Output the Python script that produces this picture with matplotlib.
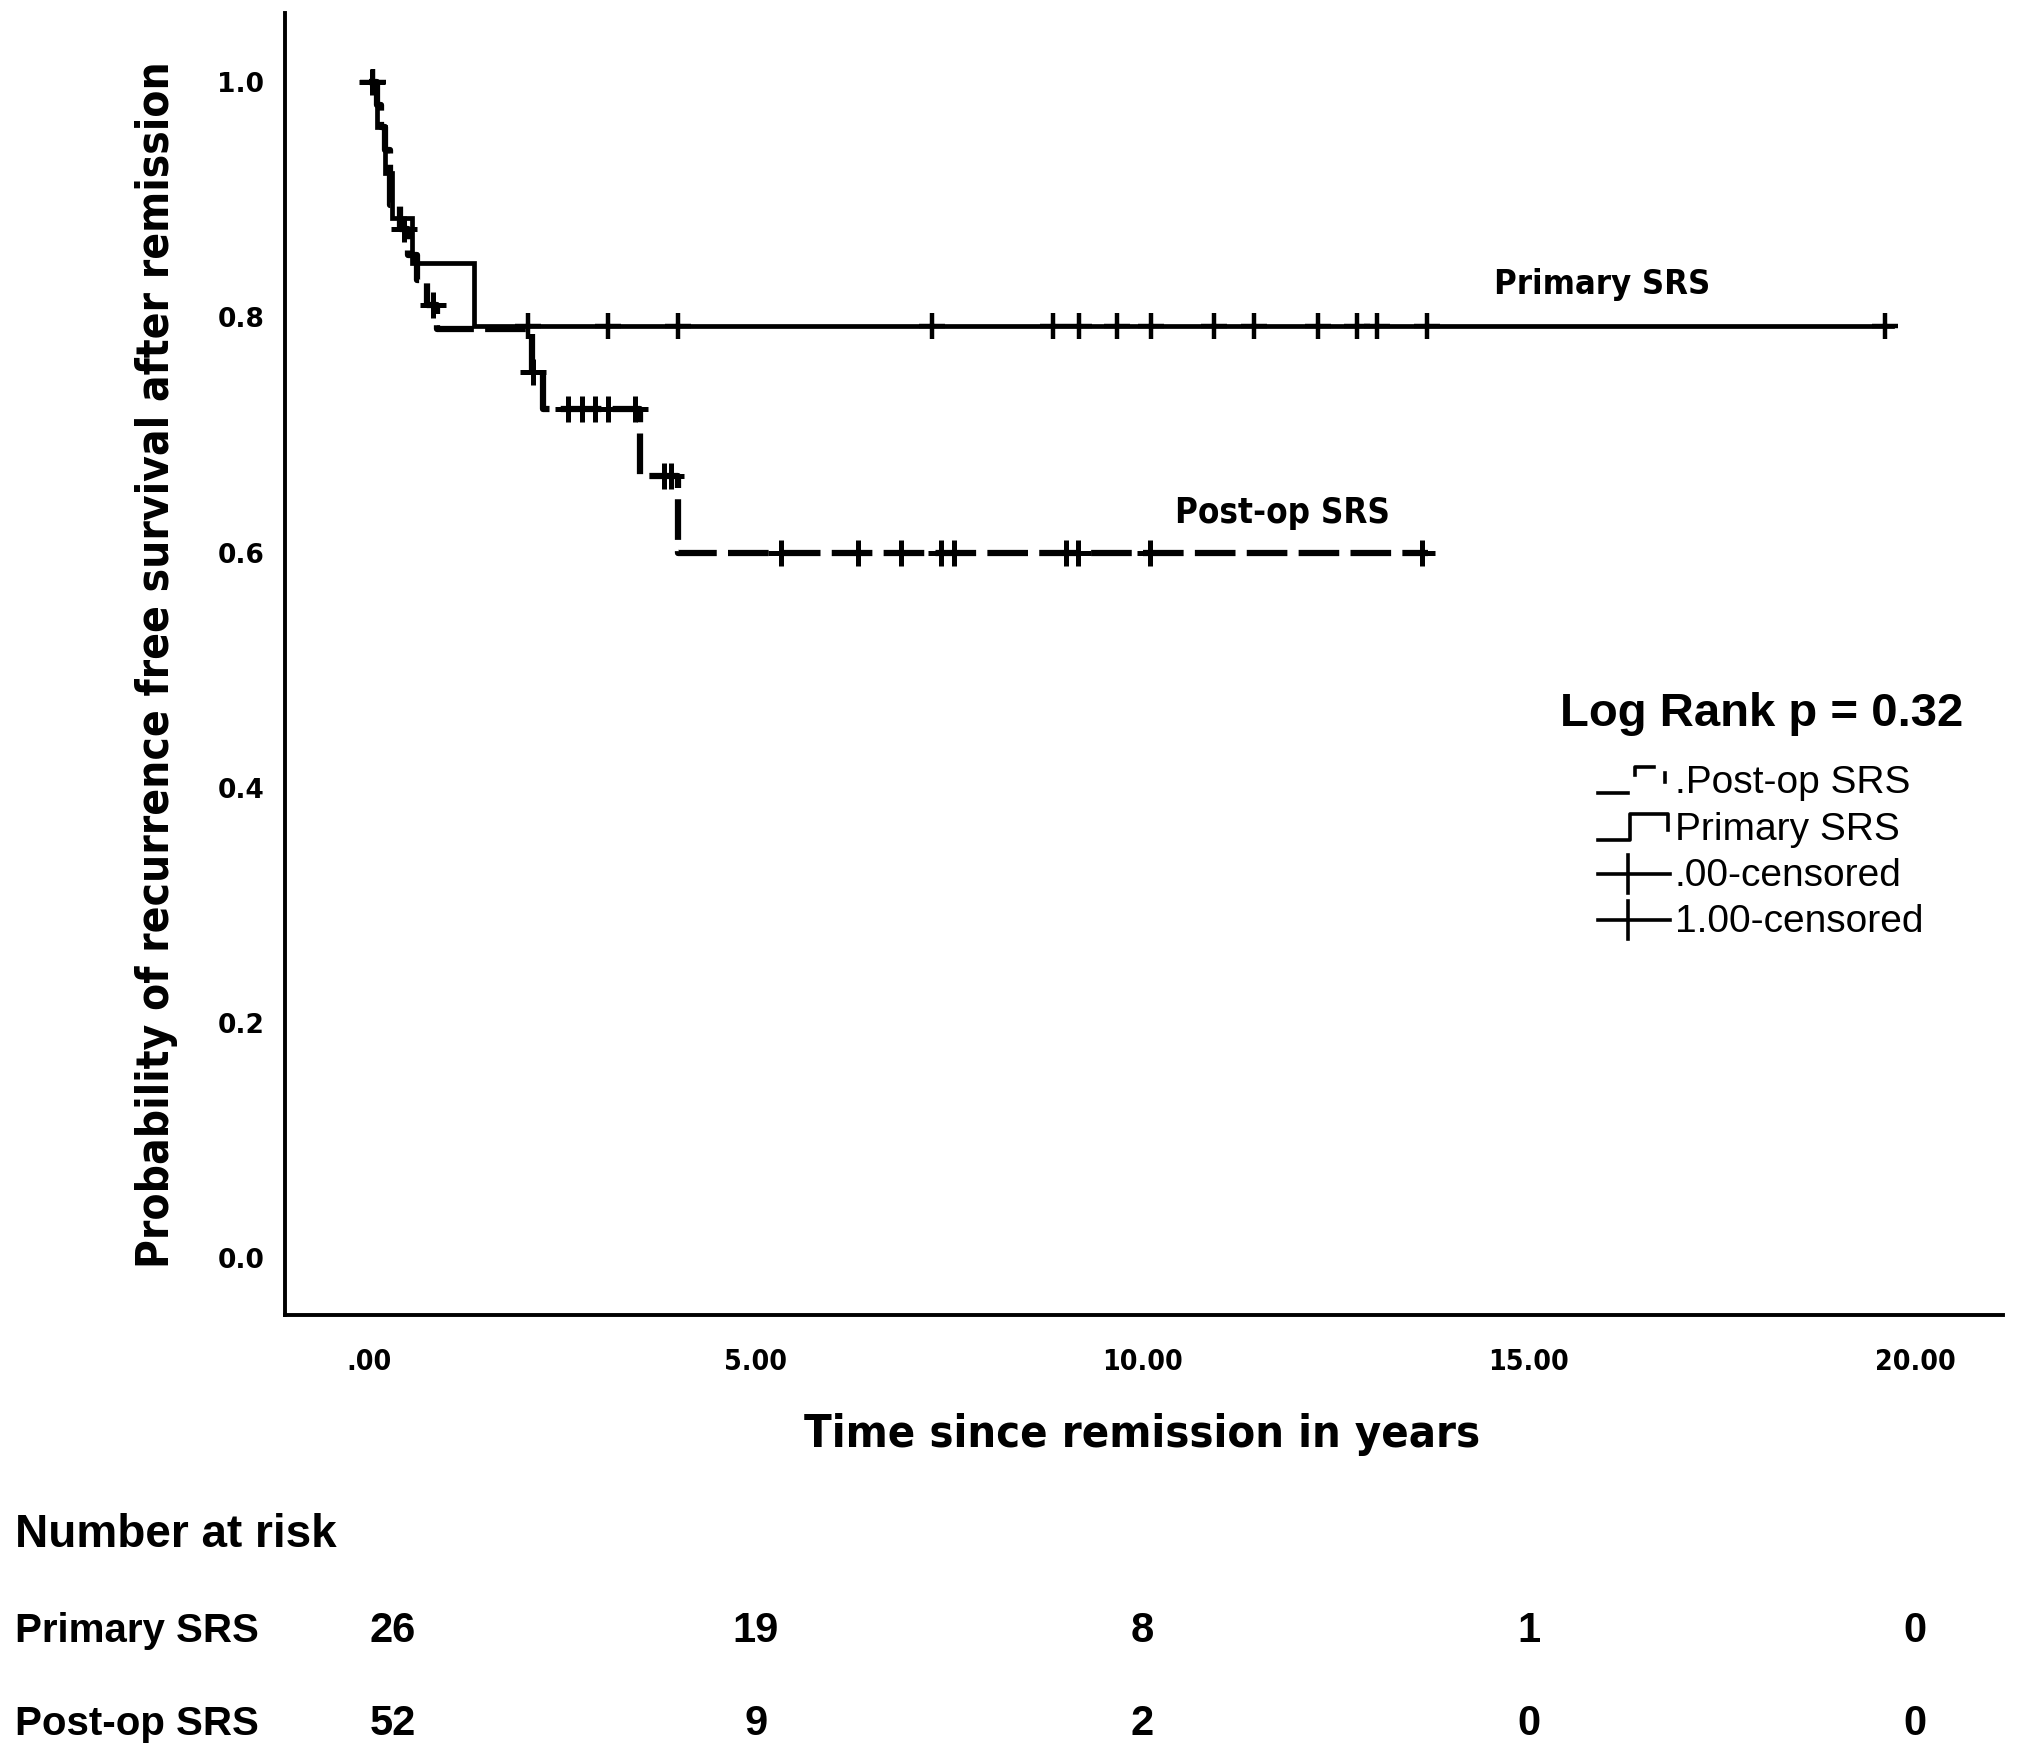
import numpy as np
import matplotlib
matplotlib.use("Agg")
import matplotlib.pyplot as plt
from matplotlib import font_manager as fm
from matplotlib import patheffects as pe
from matplotlib.lines import Line2D
from matplotlib.legend_handler import HandlerBase
from matplotlib.transforms import blended_transform_factory

# ---------------- data ----------------
primary_t = [0.0, 0.10, 0.20, 0.30, 0.55, 1.35]
primary_s = [1.0, 0.962, 0.923, 0.885, 0.846, 0.793]
primary_end = 19.7
primary_censor = [0.05, 2.05, 3.09, 4.00, 7.28, 8.85, 9.18, 9.68, 10.11, 10.93,
                  11.44, 12.28, 12.78, 13.04, 13.69, 19.61]

postop_t = [0.0, 0.10, 0.15, 0.20, 0.27, 0.40, 0.50, 0.62, 0.75, 0.88, 2.10, 2.25, 3.50, 4.00]
postop_s = [1.0, 0.981, 0.962, 0.942, 0.896, 0.875, 0.853, 0.832, 0.811, 0.790,
            0.754, 0.722, 0.665, 0.600]
postop_end = 13.7
postop_censor = [0.03, 0.45, 0.83, 2.12, 2.57, 2.75, 2.92, 3.09, 3.44, 3.82, 3.90,
                 5.33, 6.32, 6.88, 7.40, 7.56, 9.01, 9.17, 10.10, 13.62]

xticks = [0, 5, 10, 15, 20]
xtick_labels = [".00", "5.00", "10.00", "15.00", "20.00"]
yticks = [0.0, 0.2, 0.4, 0.6, 0.8, 1.0]
ytick_labels = ["0.0", "0.2", "0.4", "0.6", "0.8", "1.0"]

risk_times = [0, 5, 10, 15, 20]
risk_primary = [26, 19, 8, 1, 0]
risk_postop = [52, 9, 2, 0, 0]

# ---------------- fonts ----------------
SANS = "Liberation Sans"
COND_STRETCH = ("condensed", "semi-condensed", "extra-condensed", "ultra-condensed")


def wnum(w):
    if isinstance(w, (int, float)):
        return w
    return fm.weight_dict.get(str(w), 400)


def is_narrow(f):
    return ("Narrow" in f.name or "Condensed" in f.name or str(f.stretch) in COND_STRETCH)


bold_narrow = [f for f in fm.fontManager.ttflist if is_narrow(f) and wnum(f.weight) >= 600]
any_narrow = [f for f in fm.fontManager.ttflist if is_narrow(f)]
FAKE_BOLD = False
if bold_narrow:
    pick = bold_narrow[0]
    NARROW, NARROW_STRETCH = pick.name, pick.stretch
elif any_narrow:
    pick = any_narrow[0]
    NARROW, NARROW_STRETCH = pick.name, pick.stretch
    FAKE_BOLD = True
else:
    NARROW, NARROW_STRETCH = SANS, "normal"

NSTYLE = dict(fontfamily=NARROW, fontstretch=NARROW_STRETCH, fontweight="bold")


def embolden(txt, w=1.6):
    if FAKE_BOLD:
        txt.set_path_effects([pe.withStroke(linewidth=w, foreground="black")])


W, H = 2017, 1755
fig = plt.figure(figsize=(W / 100, H / 100), dpi=100)
L, R, T, B = 285, 2003, 13, 1315
ax = fig.add_axes([L / W, (H - B) / H, (R - L) / W, (B - T) / H])

x0_px, px_per_year = 369.2, 77.3
y1_px, y0_px = 82.3, 1258.1
ax.set_xlim((L - x0_px) / px_per_year, (R - x0_px) / px_per_year)
ax.set_ylim((y0_px - B) / (y0_px - y1_px), (y0_px - T) / (y0_px - y1_px))


def step_values(t, s, end):
    return list(t) + [end], list(s) + [s[-1]]


def censor_y(t, s, c):
    t = np.asarray(t)
    s = np.asarray(s)
    idx = np.searchsorted(t, np.asarray(c), side="right") - 1
    return s[idx]


# Primary SRS (solid)
xt, ys = step_values(primary_t, primary_s, primary_end)
ax.step(xt, ys, where="post", color="black", lw=3.4, solid_joinstyle="miter")
ax.plot(primary_censor, censor_y(primary_t, primary_s, primary_censor), ls="none",
        marker="+", ms=19, mew=3.2, color="black")

# Post-op SRS (dashed)
xt, ys = step_values(postop_t, postop_s, postop_end)
ax.step(xt, ys, where="post", color="black", lw=4.5, dashes=(6.5, 1.8))
ax.plot(postop_censor, censor_y(postop_t, postop_s, postop_censor), ls="none",
        marker="+", ms=19, mew=3.6, color="black")

# axes styling
for sp in ["top", "right"]:
    ax.spines[sp].set_visible(False)
for sp in ["left", "bottom"]:
    ax.spines[sp].set_linewidth(2.8)
ax.set_xticks(xticks)
xtl = ax.set_xticklabels(xtick_labels, fontsize=25, **NSTYLE)
ax.set_yticks(yticks)
ax.set_yticklabels(ytick_labels, fontfamily="DejaVu Sans", fontweight="bold", fontsize=19)
ax.tick_params(axis="x", length=0, pad=24)
ax.tick_params(axis="y", length=0, pad=15)

renderer = fig.canvas.get_renderer()


def fit(txt, target_px, horizontal=True):
    bb = txt.get_window_extent(renderer)
    cur = bb.width if horizontal else bb.height
    txt.set_fontsize(txt.get_fontsize() * target_px / cur)


# fit x tick labels so that "20.00" is ~81 px wide
ref_w = xtl[-1].get_window_extent(renderer).width
for t in xtl:
    t.set_fontsize(25 * 81 / ref_w)
    embolden(t, 1.2)

# axis labels
xl = fig.text(1142 / W, 1 - 1434 / H, "Time since remission in years", ha="center", va="center",
              fontsize=38, **NSTYLE)
fit(xl, 675)
embolden(xl, 2.2)
yl = fig.text(157 / W, 1 - 665 / H, "Probability of recurrence free survival after remission",
              ha="center", va="center", rotation=90, fontsize=38, **NSTYLE)
fit(yl, 1203, horizontal=False)
embolden(yl, 2.2)

# curve annotations
a1 = ax.text(15.95, 0.828, "Primary SRS", ha="center", va="center", fontsize=27, **NSTYLE)
fit(a1, 216)
embolden(a1, 1.6)
a2 = ax.text(11.82, 0.634, "Post-op SRS", ha="center", va="center", fontsize=27, **NSTYLE)
fit(a2, 215)
embolden(a2, 1.6)

# Log rank
fig.text(1762 / W, 1 - 714 / H, "Log Rank p = 0.32", ha="center", va="center",
         fontfamily=SANS, fontweight="bold", fontsize=34)


class StepHandler(HandlerBase):
    def __init__(self, dashed=False):
        super().__init__()
        self.dashed = dashed

    def create_artists(self, legend, orig_handle, xdescent, ydescent, width, height, fontsize, trans):
        x0 = -xdescent
        y0 = -ydescent
        lo = y0 + 0.0 * height
        hi = y0 + 0.95 * height
        arts = []
        if self.dashed:
            arts.append(Line2D([x0, x0 + 0.42 * width], [lo, lo], color="k", lw=2.6, transform=trans))
            arts.append(Line2D([x0 + 0.52 * width, x0 + 0.52 * width, x0 + 0.78 * width],
                               [y0 + 0.65 * height, hi, hi], color="k", lw=2.6, transform=trans))
            arts.append(Line2D([x0 + 0.93 * width, x0 + 0.93 * width],
                               [y0 + 0.75 * height, y0 + 0.4 * height], color="k", lw=2.6, transform=trans))
        else:
            arts.append(Line2D([x0, x0 + 0.45 * width, x0 + 0.45 * width, x0 + 0.97 * width, x0 + 0.97 * width],
                               [lo, lo, hi, hi, y0 + 0.35 * height], color="k", lw=2.6, transform=trans))
        return arts


class CensorHandler(HandlerBase):
    def create_artists(self, legend, orig_handle, xdescent, ydescent, width, height, fontsize, trans):
        x0 = -xdescent
        y0 = -ydescent
        ym = y0 + 0.45 * height
        a = Line2D([x0, x0 + width], [ym, ym], color="k", lw=2.6, transform=trans)
        b = Line2D([x0 + 0.42 * width] * 2, [ym - 0.7 * height, ym + 0.7 * height], color="k",
                   lw=2.6, transform=trans)
        return [a, b]


h1, h2, h3, h4 = object(), object(), object(), object()
leg = fig.legend([h1, h2, h3, h4], [".Post-op SRS", "Primary SRS", ".00-censored", "1.00-censored"],
                 handler_map={h1: StepHandler(True), h2: StepHandler(False),
                              h3: CensorHandler(), h4: CensorHandler()},
                 loc="upper left", bbox_to_anchor=(1598 / W, 1 - 765 / H), frameon=False,
                 borderpad=0, borderaxespad=0, handlelength=1.85, handletextpad=0.12,
                 labelspacing=0.27, prop={"family": SANS, "size": 28})

# Number at risk table
fig.text(15 / W, 1 - 1535 / H, "Number at risk", ha="left", va="center",
         fontfamily=SANS, fontweight="bold", fontsize=33)
fig.text(15 / W, 1 - 1631 / H, "Primary SRS", ha="left", va="center",
         fontfamily=SANS, fontweight="bold", fontsize=29)
fig.text(15 / W, 1 - 1724 / H, "Post-op SRS", ha="left", va="center",
         fontfamily=SANS, fontweight="bold", fontsize=29)
tr = blended_transform_factory(ax.transData, fig.transFigure)
for i, tt in enumerate(risk_times):
    ha = "left" if i == 0 else "center"
    fig.text(tt, 1 - 1631 / H, str(risk_primary[i]), transform=tr, ha=ha, va="center",
             fontfamily=SANS, fontweight="bold", fontsize=30)
    fig.text(tt, 1 - 1724 / H, str(risk_postop[i]), transform=tr, ha=ha, va="center",
             fontfamily=SANS, fontweight="bold", fontsize=30)

fig.savefig("out.png", dpi=100)
